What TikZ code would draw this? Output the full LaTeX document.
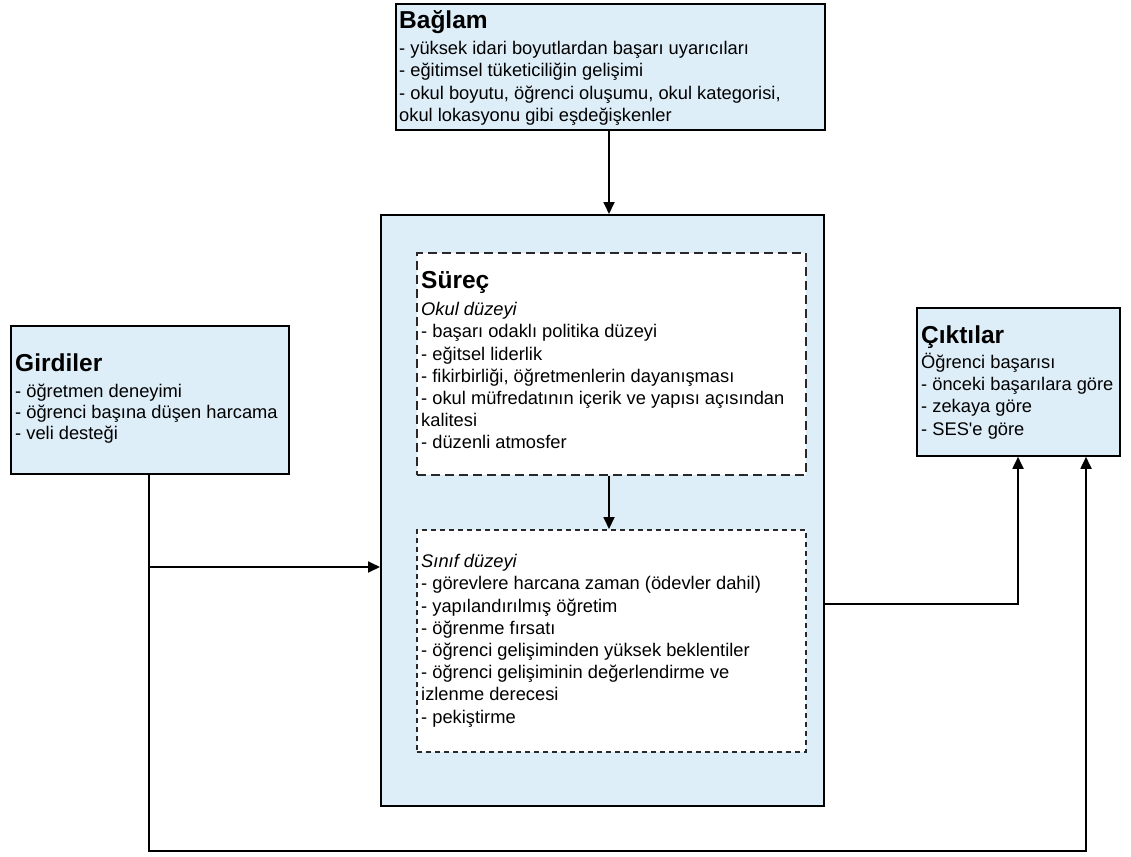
\documentclass[tikz,border=0pt]{standalone}
\usepackage{fontspec}
\setmainfont{Liberation Sans}
\usetikzlibrary{arrows.meta,calc}
\definecolor{boxblue}{RGB}{221,238,248}
\definecolor{dashgray}{RGB}{40,40,40}
\tikzset{
  bluebox/.style={draw=black, line width=1.8pt, fill=boxblue, inner sep=0pt, anchor=north west},
  longdash/.style={draw=dashgray, line width=1.8pt, fill=white, inner sep=0pt, anchor=north west, dash pattern=on 9pt off 5pt},
  shortdash/.style={draw=dashgray, line width=1.6pt, fill=white, inner sep=0pt, anchor=north west, dash pattern=on 5pt off 4pt},
  txt/.style={anchor=north west, align=left, inner sep=0pt, font=\fontsize{18.3}{22.2}\selectfont},
  conn/.style={line width=1.8pt, draw=black},
  arr/.style={conn, -{Triangle[length=12pt,width=11pt]}}
}
\newcommand{\ttlline}[1]{\rule{0pt}{19pt}{\fontsize{24.5}{26}\selectfont\bfseries #1}}
\begin{document}
\begin{tikzpicture}[x=1pt,y=-1pt]
\useasboundingbox (0,0) rectangle (1131,856);
% boxes
\node[bluebox, minimum width=429pt, minimum height=126pt] (baglam) at (395,3) {};
\node[bluebox, minimum width=443pt, minimum height=591pt] (proc) at (380,214) {};
\node[longdash, minimum width=389pt, minimum height=222pt] (surec) at (416,252) {};
\node[shortdash, minimum width=389pt, minimum height=222pt] (sinif) at (416,529) {};
\node[bluebox, minimum width=278pt, minimum height=148pt] (girdi) at (10,325) {};
\node[bluebox, minimum width=203pt, minimum height=148pt] (cikti) at (916,307) {};
% texts
\node[txt] (baglamt) at (399,9.5) {\ttlline{Bağlam}\\[3.8pt]
- yüksek idari boyutlardan başarı uyarıcıları\\
- eğitimsel tüketiciliğin gelişimi\\
- okul boyutu, öğrenci oluşumu, okul kategorisi,\\
okul lokasyonu gibi eşdeğişkenler};
\node[txt] (surect) at (421,269) {\ttlline{Süreç}\\[5.2pt]
\textit{Okul düzeyi}\\
- başarı odaklı politika düzeyi\\
- eğitsel liderlik\\
- fikirbirliği, öğretmenlerin dayanışması\\
- okul müfredatının içerik ve yapısı açısından\\
kalitesi\\
- düzenli atmosfer};
\node[txt] (sinift) at (421,552.5) {\rule{0pt}{15pt}\textit{Sınıf düzeyi}\\
- görevlere harcana zaman (ödevler dahil)\\
- yapılandırılmış öğretim\\
- öğrenme fırsatı\\
- öğrenci gelişiminden yüksek beklentiler\\
- öğrenci gelişiminin değerlendirme ve\\
izlenme derecesi\\
- pekiştirme};
\node[txt, font=\fontsize{18.3}{21}\selectfont] (girdit) at (15,352.5) {\ttlline{Girdiler}\\[5pt]
- öğretmen deneyimi\\
- öğrenci başına düşen harcama\\
- veli desteği};
\node[txt, font=\fontsize{18.3}{22.3}\selectfont] (ciktit) at (921,324) {\ttlline{Çıktılar}\\[2.8pt]
Öğrenci başarısı\\
- önceki başarılara göre\\
- zekaya göre\\
- SES\textquotesingle e göre};
% connector points
\coordinate (gx) at (149,851);
\coordinate (cx) at (1086,851);
\coordinate (gy) at (149,567);
\coordinate (py) at (823,604);
\coordinate (ox) at (1018,604);
% connectors
\draw[arr] (baglam.south -| 609,0) -- (609,0 |- proc.north);
\draw[arr] (surec.south -| 609,0) -- (609,0 |- sinif.north);
\draw[arr] (girdi.south -| gx) -- (gx) -- (cx) -- (cx |- cikti.south);
\draw[arr] (gy) -- (gy -| proc.west);
\draw[arr] (proc.east |- py) -- (ox) -- (ox |- cikti.south);
\end{tikzpicture}
\end{document}
